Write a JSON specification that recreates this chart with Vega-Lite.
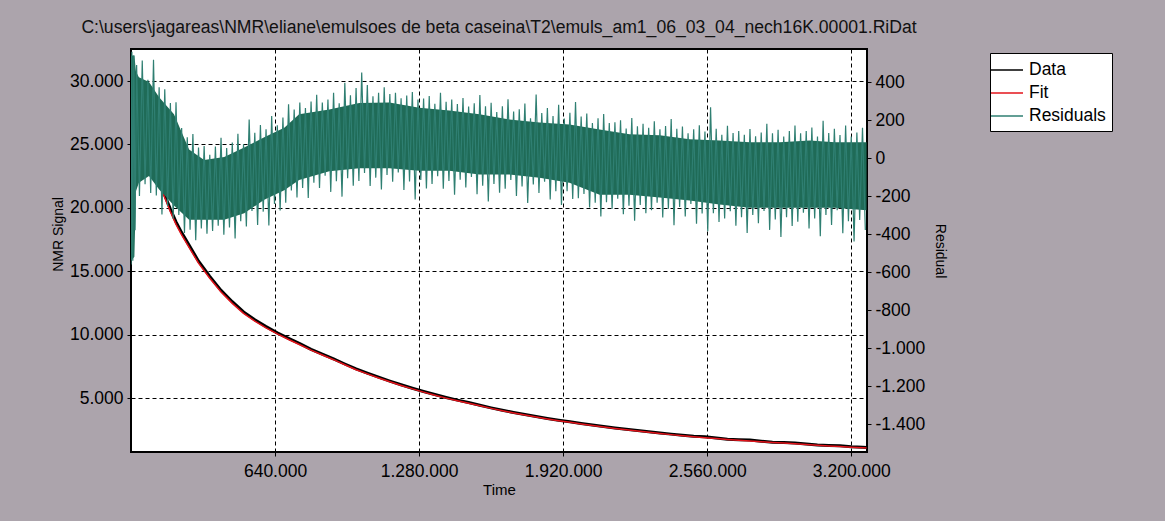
{
  "$schema": "https://vega.github.io/schema/vega-lite/v6.json",
  "width": 736,
  "height": 403,
  "autosize": {"type": "none"},
  "padding": {"left": 131, "top": 49, "right": 298, "bottom": 69},
  "background": "#aca4ac",
  "title": {
    "text": "C:\\users\\jagareas\\NMR\\eliane\\emulsoes de beta caseina\\T2\\emuls_am1_06_03_04_nech16K.00001.RiDat",
    "frame": "group", "anchor": "middle", "offset": 12, "fontSize": 17.6,
    "font": "Liberation Sans", "fontWeight": "normal", "color": "#111111"
  },
  "config": {
    "locale": {"number": {"decimal": ",", "thousands": ".", "grouping": [3], "currency": ["", ""], "minus": "-"}},
    "view": {"stroke": "#000000", "strokeWidth": 2, "fill": "white"},
    "font": "Liberation Sans",
    "axis": {
      "labelFont": "Liberation Sans", "titleFont": "Liberation Sans",
      "labelColor": "#000000", "titleColor": "#000000", "tickColor": "#000000",
      "domain": false, "titleFontWeight": "normal", "labelFontSize": 17.5, "titleFontSize": 14,
      "tickSize": 4, "labelPadding": 4
    },
    "legend": {
      "orient": "none", "legendX": 859, "legendY": 4, "fillColor": "white", "strokeColor": "#000000",
      "padding": 6, "symbolType": "M-1.6,0H1.6", "symbolSize": 400, "symbolStrokeWidth": 1.5,
      "labelFontSize": 17.5, "labelFont": "Liberation Sans", "labelColor": "#000000", "labelOffset": 11, "rowPadding": 3
    }
  },
  "datasets": {
    "curve": [
      {"t":0,"data":30650,"fit":30500},{"t":10000,"data":29950,"fit":29700},{"t":20000,"data":29100,"fit":28900},
      {"t":30000,"data":28350,"fit":28100},{"t":40000,"data":27500,"fit":27300},{"t":50000,"data":26750,"fit":26500},
      {"t":60000,"data":26000,"fit":25800},{"t":70000,"data":25350,"fit":25100},{"t":80000,"data":24700,"fit":24500},
      {"t":90000,"data":24100,"fit":23900},{"t":100000,"data":23500,"fit":23300},{"t":125000,"data":22200,"fit":22000},
      {"t":150000,"data":21000,"fit":20800},{"t":175000,"data":19900,"fit":19700},{"t":200000,"data":18900,"fit":18700},
      {"t":225000,"data":18050,"fit":17870},{"t":250000,"data":17300,"fit":17120},{"t":300000,"data":15800,"fit":15640},
      {"t":350000,"data":14600,"fit":14450},{"t":400000,"data":13500,"fit":13360},{"t":450000,"data":12600,"fit":12470},
      {"t":500000,"data":11800,"fit":11680},{"t":550000,"data":11180,"fit":11070},{"t":600000,"data":10640,"fit":10540},
      {"t":650000,"data":10150,"fit":10060},{"t":700000,"data":9710,"fit":9620},{"t":750000,"data":9290,"fit":9210},
      {"t":800000,"data":8850,"fit":8780},{"t":850000,"data":8470,"fit":8400},{"t":900000,"data":8100,"fit":8030},
      {"t":950000,"data":7690,"fit":7630},{"t":1000000,"data":7300,"fit":7240},{"t":1050000,"data":6970,"fit":6910},
      {"t":1100000,"data":6650,"fit":6590},{"t":1150000,"data":6340,"fit":6290},{"t":1200000,"data":6050,"fit":6000},
      {"t":1250000,"data":5780,"fit":5730},{"t":1300000,"data":5520,"fit":5470},{"t":1350000,"data":5280,"fit":5230},
      {"t":1400000,"data":5050,"fit":5000},{"t":1450000,"data":4840,"fit":4790},{"t":1500000,"data":4650,"fit":4600},
      {"t":1550000,"data":4440,"fit":4390},{"t":1600000,"data":4230,"fit":4190},{"t":1650000,"data":4040,"fit":4000},
      {"t":1700000,"data":3870,"fit":3830},{"t":1750000,"data":3700,"fit":3660},{"t":1800000,"data":3550,"fit":3510},
      {"t":1850000,"data":3400,"fit":3360},{"t":1900000,"data":3260,"fit":3220},{"t":1950000,"data":3130,"fit":3090},
      {"t":2000000,"data":3000,"fit":2960},{"t":2050000,"data":2880,"fit":2840},{"t":2100000,"data":2760,"fit":2720},
      {"t":2150000,"data":2650,"fit":2610},{"t":2200000,"data":2540,"fit":2500},{"t":2250000,"data":2440,"fit":2400},
      {"t":2300000,"data":2340,"fit":2300},{"t":2350000,"data":2250,"fit":2210},{"t":2400000,"data":2160,"fit":2120},
      {"t":2450000,"data":2080,"fit":2040},{"t":2500000,"data":2000,"fit":1960},{"t":2550000,"data":1950,"fit":1880},
      {"t":2600000,"data":1850,"fit":1810},{"t":2650000,"data":1760,"fit":1740},{"t":2700000,"data":1720,"fit":1680},
      {"t":2750000,"data":1690,"fit":1620},{"t":2800000,"data":1600,"fit":1560},{"t":2850000,"data":1520,"fit":1505},
      {"t":2900000,"data":1490,"fit":1450},{"t":2950000,"data":1460,"fit":1395},{"t":3000000,"data":1380,"fit":1340},
      {"t":3050000,"data":1300,"fit":1285},{"t":3100000,"data":1270,"fit":1230},{"t":3150000,"data":1250,"fit":1180},
      {"t":3200000,"data":1170,"fit":1130},{"t":3250000,"data":1120,"fit":1080},{"t":3268000,"data":1100,"fit":1060}
    ],
    "band": [
      {"t":0,"lo":-540,"hi":540},{"t":15000,"lo":-520,"hi":540},{"t":22000,"lo":-175,"hi":455},
      {"t":35000,"lo":-130,"hi":425},{"t":80000,"lo":-95,"hi":400},{"t":125000,"lo":-165,"hi":320},
      {"t":191000,"lo":-250,"hi":230},{"t":258000,"lo":-325,"hi":45},{"t":325000,"lo":-325,"hi":-10},
      {"t":414000,"lo":-325,"hi":5},{"t":503000,"lo":-290,"hi":55},{"t":592000,"lo":-220,"hi":110},
      {"t":681000,"lo":-170,"hi":160},{"t":747000,"lo":-115,"hi":230},{"t":881000,"lo":-70,"hi":255},
      {"t":1014000,"lo":-53,"hi":290},{"t":1148000,"lo":-53,"hi":293},{"t":1281000,"lo":-67,"hi":265},
      {"t":1414000,"lo":-67,"hi":250},{"t":1548000,"lo":-87,"hi":230},{"t":1681000,"lo":-87,"hi":203},
      {"t":1815000,"lo":-103,"hi":187},{"t":1948000,"lo":-130,"hi":177},{"t":2082000,"lo":-193,"hi":150},
      {"t":2215000,"lo":-193,"hi":125},{"t":2349000,"lo":-207,"hi":120},{"t":2482000,"lo":-223,"hi":99},
      {"t":2615000,"lo":-245,"hi":93},{"t":2749000,"lo":-261,"hi":83},{"t":2882000,"lo":-261,"hi":83},
      {"t":3016000,"lo":-261,"hi":93},{"t":3127000,"lo":-261,"hi":83},{"t":3268000,"lo":-275,"hi":83}
    ],
    "resid": [
      {"t":0,"r":-560},{"t":4000,"r":560},{"t":8000,"r":-540},{"t":12500,"r":540},{"t":18000,"r":-380},
      {"t":25000,"r":490},{"t":37500,"r":-200},{"t":50000,"r":513},{"t":62500,"r":-138},{"t":75000,"r":412},
      {"t":87500,"r":-184},{"t":100000,"r":517},{"t":112500,"r":-197},{"t":125000,"r":372},{"t":137500,"r":-297},
      {"t":150000,"r":362},{"t":162500,"r":-252},{"t":175000,"r":290},{"t":187500,"r":-319},{"t":200000,"r":294},
      {"t":212500,"r":-299},{"t":225000,"r":158},{"t":237500,"r":-394},{"t":250000,"r":109},{"t":262500,"r":-377},
      {"t":275000,"r":127},{"t":287500,"r":-432},{"t":300000,"r":56},{"t":312500,"r":-370},{"t":325000,"r":64},
      {"t":337500,"r":-398},{"t":350000,"r":17},{"t":362500,"r":-384},{"t":375000,"r":61},{"t":387500,"r":-356},
      {"t":400000,"r":107},{"t":412500,"r":-404},{"t":425000,"r":53},{"t":437500,"r":-365},{"t":450000,"r":82},
      {"t":462500,"r":-423},{"t":475000,"r":128},{"t":487500,"r":-333},{"t":500000,"r":72},{"t":512500,"r":-360},
      {"t":525000,"r":203},{"t":537500,"r":-278},{"t":550000,"r":133},{"t":562500,"r":-352},{"t":575000,"r":174},
      {"t":587500,"r":-282},{"t":600000,"r":152},{"t":612500,"r":-355},{"t":625000,"r":221},{"t":637500,"r":-242},
      {"t":650000,"r":173},{"t":662500,"r":-276},{"t":675000,"r":214},{"t":687500,"r":-235},{"t":700000,"r":283},
      {"t":712500,"r":-170},{"t":725000,"r":255},{"t":737500,"r":-208},{"t":750000,"r":292},{"t":762500,"r":-158},
      {"t":775000,"r":264},{"t":787500,"r":-210},{"t":800000,"r":297},{"t":812500,"r":-130},{"t":825000,"r":333},
      {"t":837500,"r":-158},{"t":850000,"r":292},{"t":862500,"r":-93},{"t":875000,"r":308},{"t":887500,"r":-178},
      {"t":900000,"r":343},{"t":912500,"r":-122},{"t":925000,"r":289},{"t":937500,"r":-203},{"t":950000,"r":396},
      {"t":962500,"r":-106},{"t":975000,"r":331},{"t":987500,"r":-145},{"t":1000000,"r":369},{"t":1012500,"r":-121},
      {"t":1025000,"r":450},{"t":1037500,"r":-79},{"t":1050000,"r":385},{"t":1062500,"r":-147},{"t":1075000,"r":325},
      {"t":1087500,"r":-103},{"t":1100000,"r":344},{"t":1112500,"r":-166},{"t":1125000,"r":372},{"t":1137500,"r":-89},
      {"t":1150000,"r":337},{"t":1162500,"r":-124},{"t":1175000,"r":344},{"t":1187500,"r":-76},{"t":1200000,"r":315},
      {"t":1212500,"r":-168},{"t":1225000,"r":329},{"t":1237500,"r":-123},{"t":1250000,"r":347},{"t":1262500,"r":-218},
      {"t":1275000,"r":308},{"t":1287500,"r":-116},{"t":1300000,"r":314},{"t":1312500,"r":-160},{"t":1325000,"r":327},
      {"t":1337500,"r":-137},{"t":1350000,"r":286},{"t":1362500,"r":-95},{"t":1375000,"r":344},{"t":1387500,"r":-161},
      {"t":1400000,"r":296},{"t":1412500,"r":-121},{"t":1425000,"r":308},{"t":1437500,"r":-193},{"t":1450000,"r":285},
      {"t":1462500,"r":-114},{"t":1475000,"r":316},{"t":1487500,"r":-155},{"t":1500000,"r":271},{"t":1512500,"r":-100},
      {"t":1525000,"r":288},{"t":1537500,"r":-190},{"t":1550000,"r":332},{"t":1562500,"r":-146},{"t":1575000,"r":273},
      {"t":1587500,"r":-228},{"t":1600000,"r":291},{"t":1612500,"r":-137},{"t":1625000,"r":242},{"t":1637500,"r":-183},
      {"t":1650000,"r":273},{"t":1662500,"r":-162},{"t":1675000,"r":310},{"t":1687500,"r":-115},{"t":1700000,"r":245},
      {"t":1712500,"r":-200},{"t":1725000,"r":257},{"t":1737500,"r":-150},{"t":1750000,"r":287},{"t":1762500,"r":-236},
      {"t":1775000,"r":209},{"t":1787500,"r":-139},{"t":1800000,"r":334},{"t":1812500,"r":-184},{"t":1825000,"r":237},
      {"t":1837500,"r":-125},{"t":1850000,"r":263},{"t":1862500,"r":-218},{"t":1875000,"r":221},{"t":1887500,"r":-174},
      {"t":1900000,"r":280},{"t":1912500,"r":-247},{"t":1925000,"r":208},{"t":1937500,"r":-174},{"t":1950000,"r":238},
      {"t":1962500,"r":-215},{"t":1975000,"r":295},{"t":1987500,"r":-211},{"t":2000000,"r":219},{"t":2012500,"r":-189},
      {"t":2025000,"r":234},{"t":2037500,"r":-260},{"t":2050000,"r":185},{"t":2062500,"r":-235},{"t":2075000,"r":210},
      {"t":2087500,"r":-308},{"t":2100000,"r":232},{"t":2112500,"r":-232},{"t":2125000,"r":184},{"t":2137500,"r":-267},
      {"t":2150000,"r":188},{"t":2162500,"r":-214},{"t":2175000,"r":199},{"t":2187500,"r":-296},{"t":2200000,"r":155},
      {"t":2212500,"r":-251},{"t":2225000,"r":211},{"t":2237500,"r":-330},{"t":2250000,"r":167},{"t":2262500,"r":-247},
      {"t":2275000,"r":180},{"t":2287500,"r":-290},{"t":2300000,"r":160},{"t":2312500,"r":-274},{"t":2325000,"r":193},
      {"t":2337500,"r":-235},{"t":2350000,"r":152},{"t":2362500,"r":-313},{"t":2375000,"r":168},{"t":2387500,"r":-267},
      {"t":2400000,"r":205},{"t":2412500,"r":-354},{"t":2425000,"r":154},{"t":2437500,"r":-258},{"t":2450000,"r":166},
      {"t":2462500,"r":-307},{"t":2475000,"r":130},{"t":2487500,"r":-241},{"t":2500000,"r":152},{"t":2512500,"r":-346},
      {"t":2525000,"r":173},{"t":2537500,"r":-292},{"t":2550000,"r":140},{"t":2562500,"r":-385},{"t":2575000,"r":268},
      {"t":2587500,"r":-291},{"t":2600000,"r":154},{"t":2612500,"r":-336},{"t":2625000,"r":122},{"t":2637500,"r":-318},
      {"t":2650000,"r":170},{"t":2662500,"r":-280},{"t":2675000,"r":132},{"t":2687500,"r":-356},{"t":2700000,"r":142},
      {"t":2712500,"r":-312},{"t":2725000,"r":123},{"t":2737500,"r":-394},{"t":2750000,"r":153},{"t":2762500,"r":-300},
      {"t":2775000,"r":115},{"t":2787500,"r":-343},{"t":2800000,"r":135},{"t":2812500,"r":-278},{"t":2825000,"r":180},
      {"t":2837500,"r":-378},{"t":2850000,"r":130},{"t":2862500,"r":-323},{"t":2875000,"r":149},{"t":2887500,"r":-416},
      {"t":2900000,"r":113},{"t":2912500,"r":-312},{"t":2925000,"r":142},{"t":2937500,"r":-358},{"t":2950000,"r":171},
      {"t":2962500,"r":-335},{"t":2975000,"r":131},{"t":2987500,"r":-288},{"t":3000000,"r":142},{"t":3012500,"r":-370},
      {"t":3025000,"r":161},{"t":3037500,"r":-318},{"t":3050000,"r":114},{"t":3062500,"r":-411},{"t":3075000,"r":196},
      {"t":3087500,"r":-300},{"t":3100000,"r":132},{"t":3112500,"r":-352},{"t":3125000,"r":154},{"t":3137500,"r":-275},
      {"t":3150000,"r":121},{"t":3162500,"r":-395},{"t":3175000,"r":171},{"t":3187500,"r":-333},{"t":3200000,"r":113},
      {"t":3212500,"r":-439},{"t":3225000,"r":135},{"t":3237500,"r":-326},{"t":3250000,"r":160},{"t":3262500,"r":-379}
    ]
  },
  "encoding": {
    "x": {
      "field": "t", "type": "quantitative",
      "scale": {"domain": [0, 3270000], "nice": false, "zero": false},
      "axis": {
        "title": "Time", "values": [640000, 1280000, 1920000, 2560000, 3200000], "format": ",.0f",
        "grid": true, "gridDash": [4, 3], "gridColor": "#000000", "gridOpacity": 1, "gridWidth": 1,
        "labelPadding": 6, "titlePadding": 3, "titleFontSize": 15
      }
    }
  },
  "layer": [
    {
      "data": {"name": "curve"},
      "layer": [
        {
          "mark": {"type": "line", "strokeWidth": 3, "clip": true},
          "encoding": {
            "y": {
              "field": "data", "type": "quantitative",
              "scale": {"domain": [750, 32530], "nice": false, "zero": false},
              "axis": {
                "title": "NMR Signal", "orient": "left", "values": [5000, 10000, 15000, 20000, 25000, 30000],
                "format": ",.0f", "grid": true, "gridDash": [4, 3], "gridColor": "#000000", "gridOpacity": 1,
                "gridWidth": 1, "titlePadding": 4, "titleY": 185
              }
            },
            "color": {
              "datum": "Data", "type": "nominal",
              "scale": {"domain": ["Data", "Fit", "Residuals"], "range": ["#000000", "#e3141b", "#2f7f72"]},
              "legend": {"title": null}
            }
          }
        },
        {
          "mark": {"type": "line", "strokeWidth": 1.5, "clip": true},
          "encoding": {
            "y": {
              "field": "fit", "type": "quantitative",
              "axis": {
                "title": "NMR Signal", "orient": "left", "values": [5000, 10000, 15000, 20000, 25000, 30000],
                "format": ",.0f", "grid": true, "gridDash": [4, 3], "gridColor": "#000000", "gridOpacity": 1,
                "gridWidth": 1, "titlePadding": 4, "titleY": 185
              }
            },
            "color": {"datum": "Fit", "type": "nominal"}
          }
        }
      ]
    },
    {
      "layer": [
        {
          "data": {"name": "band"},
          "mark": {"type": "area", "color": "#1f6b57", "clip": true, "interpolate": "linear"},
          "encoding": {
            "y": {
              "field": "lo", "type": "quantitative",
              "scale": {"domain": [-1547, 574], "nice": false, "zero": false},
              "axis": {
                "title": "Residual", "orient": "right", "values": [-1400, -1200, -1000, -800, -600, -400, -200, 0, 200, 400],
                "format": ",.0f", "grid": false, "titlePadding": 8
              }
            },
            "y2": {"field": "hi"}
          }
        },
        {
          "data": {"name": "resid"},
          "mark": {"type": "line", "strokeWidth": 1.2, "clip": true},
          "encoding": {
            "y": {
              "field": "r", "type": "quantitative",
              "axis": {
                "title": "Residual", "orient": "right", "values": [-1400, -1200, -1000, -800, -600, -400, -200, 0, 200, 400],
                "format": ",.0f", "grid": false, "titlePadding": 8
              }
            },
            "color": {"datum": "Residuals", "type": "nominal"}
          }
        }
      ]
    }
  ],
  "resolve": {"scale": {"y": "independent"}}
}
